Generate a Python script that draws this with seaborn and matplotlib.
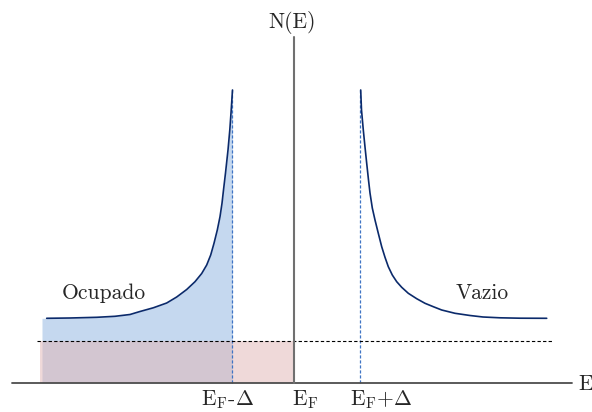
import numpy as np
import pandas as pd
import matplotlib
matplotlib.use("Agg")
import matplotlib.pyplot as plt
import seaborn as sns

# ---- data (E relative to E_F, N(E) arbitrary units) ----
left_E = [-24.73, -22.4, -19.73, -17.9, -16.4, -15.4, -14.07, -12.73, -11.73,
          -10.73, -9.9, -9.23, -8.73, -8.33, -8.0, -7.67, -7.4, -7.2, -7.05,
          -6.85, -6.6, -6.42, -6.3, -6.15]
left_N = [6.47, 6.5, 6.57, 6.67, 6.85, 7.15, 7.52, 8.0, 8.6,
          9.35, 10.13, 10.95, 11.8, 12.8, 13.97, 15.3, 16.63, 17.97, 19.3,
          21.0, 23.3, 25.3, 27.0, 29.3]
right_E = [6.67, 6.75, 6.93, 7.1, 7.27, 7.45, 7.6, 7.83, 8.1, 8.43, 8.77, 9.1,
           9.43, 9.83, 10.27, 10.77, 11.43, 12.27, 13.1, 13.93, 14.77, 16.1,
           17.6, 18.9, 20.6, 22.6, 25.27]
right_N = [29.3, 27.3, 25.3, 23.6, 21.97, 20.3, 19.0, 17.5, 16.3, 14.97, 13.63,
           12.57, 11.63, 10.8, 10.13, 9.57, 8.97, 8.43, 7.97, 7.63, 7.3, 6.97,
           6.75, 6.6, 6.52, 6.48, 6.47]
gap_edges = [-6.2, 6.6]          # E_F - Delta, E_F + Delta
normal_level = 4.2               # dashed normal-state DOS
tick_labels = [r"$\mathrm{E_F}$-$\Delta$", r"$\mathrm{E_F}$", r"$\mathrm{E_F}$+$\Delta$"]
region_labels = ["Ocupado", "Vazio"]

sns.set_theme(style="white")
plt.rcParams["font.family"] = ["cmr10", "DejaVu Serif"]
plt.rcParams["mathtext.fontset"] = "cm"
plt.rcParams["axes.unicode_minus"] = False

fig = plt.figure(figsize=(5.92, 4.12), dpi=100)
ax = fig.add_axes([0, 0, 1, 1])
ax.set_xlim(-29.4, 29.8)
ax.set_ylim(-2.9, 38.3)
ax.axis("off")

df_left = pd.DataFrame({"E": left_E, "N": left_N})
df_right = pd.DataFrame({"E": right_E, "N": right_N})

# occupied states fill (blue)
fill_start = -25.2
ax.fill_between([fill_start] + left_E, 0, [left_N[0]] + left_N,
                color="#c5d8ef", lw=0, zorder=1)
# normal-state occupied block (pink)
ax.fill_between([-25.4, 0], 0, normal_level, color="#e1b5b5", alpha=0.5,
                lw=0, zorder=2)

# curves
for d in (df_left, df_right):
    sns.lineplot(data=d, x="E", y="N", ax=ax, color="#0b2a6b", lw=1.2,
                 sort=False, zorder=4, solid_joinstyle="round")

# gap edges
for e in gap_edges:
    ax.plot([e, e], [0, max(left_N)], color="#3f74c4", lw=0.9,
            dashes=(2.5, 1.5), zorder=3)

# normal-state level
ax.plot([-25.7, 25.8], [normal_level, normal_level], color="black", lw=0.8,
        dashes=(3, 2), zorder=3)

# axes
ax.plot([-28.2, 27.8], [0, 0], color="#4d4d4d", lw=1.3, zorder=5)
ax.plot([0, 0], [0, 34.6], color="#707070", lw=1.5, zorder=5)

fs = 15.5
ax.text(28.4, -0.7, "E", fontsize=fs, ha="left", va="baseline")
ax.text(-0.15, 35.5, "N(E)", fontsize=fs, ha="center", va="baseline")

label_x = [-6.65, 1.1, 8.7]
for x, t in zip(label_x, tick_labels):
    ax.text(x, -2.2, t, fontsize=fs, ha="center", va="baseline")

ax.text(-19.05, 8.4, region_labels[0], fontsize=fs, ha="center", va="baseline")
ax.text(18.8, 8.4, region_labels[1], fontsize=fs, ha="center", va="baseline")

fig.savefig("out.png", dpi=100)
